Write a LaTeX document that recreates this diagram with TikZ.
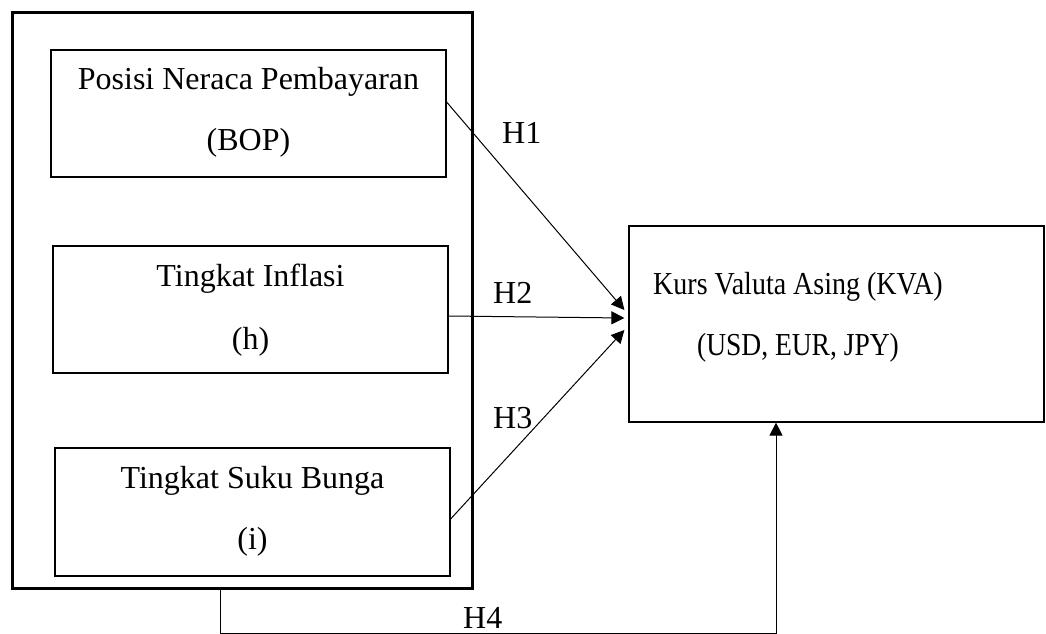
\documentclass[tikz,border=0pt]{standalone}
\usepackage{fontspec}
\setmainfont{Liberation Serif}
\usetikzlibrary{arrows.meta}
\begin{document}
\begin{tikzpicture}[x=1pt,y=-1pt,
  box/.style={draw, line width=1.2pt, inner sep=0pt, minimum width=395pt, minimum height=127pt},
  txt/.style={inner sep=0pt, anchor=base, font=\fontsize{32}{38}\selectfont},
  lbl/.style={inner sep=0pt, anchor=base west, font=\fontsize{32}{38}\selectfont},
  conn/.style={line width=1pt, -{Triangle[length=13pt,width=13pt]}}]
\useasboundingbox (0,0) rectangle (1046,634);
\node[draw, line width=3pt, inner sep=0pt, minimum width=460pt, minimum height=576pt] (outer) at (242.5,300.5) {};
\node[box] (b1) at (248.5,113.5) {};
\node[box] (b2) at (250.5,309.5) {};
\node[box, minimum height=128pt] (b3) at (252.5,512) {};
\node[box, minimum width=415pt, minimum height=196pt] (kva) at (836.5,324) {};
\node[txt] (t1a) at (248.5,89) {Posisi Neraca Pembayaran};
\node[txt] (t1b) at (248.5,150) {(BOP)};
\node[txt] (t2a) at (250.5,286) {Tingkat Inflasi};
\node[txt] (t2b) at (250.5,349) {(h)};
\node[txt] (t3a) at (252.5,488) {Tingkat Suku Bunga};
\node[txt] (t3b) at (252.5,549) {(i)};
\node[txt] (tka) at (798,294) {\scalebox{0.875}[1]{Kurs Valuta Asing (KVA)}};
\node[txt] (tkb) at (798,355) {\scalebox{0.86}[1]{(USD, EUR, JPY)}};
\node[lbl] (h1) at (502,143) {H1};
\node[lbl] (h2) at (493,303) {H2};
\node[lbl] (h3) at (493,428) {H3};
\node[lbl] (h4) at (463,628) {H4};
\draw[conn] ([yshift=11.5pt]b1.east) -- ([xshift=-4pt,yshift=14pt]kva.west);
\draw[conn] ([yshift=-6.5pt]b2.east) -- ([xshift=-4pt,yshift=6pt]kva.west);
\draw[conn] ([yshift=-7pt]b3.east) -- ([xshift=-4pt,yshift=-6pt]kva.west);
\coordinate (c1) at (220,633.7);
\coordinate (c2) at (776,633.7);
\draw[conn] ([xshift=-22.5pt]outer.south) -- (c1) -- (c2) -- ([xshift=-60.5pt]kva.south);
\end{tikzpicture}
\end{document}
